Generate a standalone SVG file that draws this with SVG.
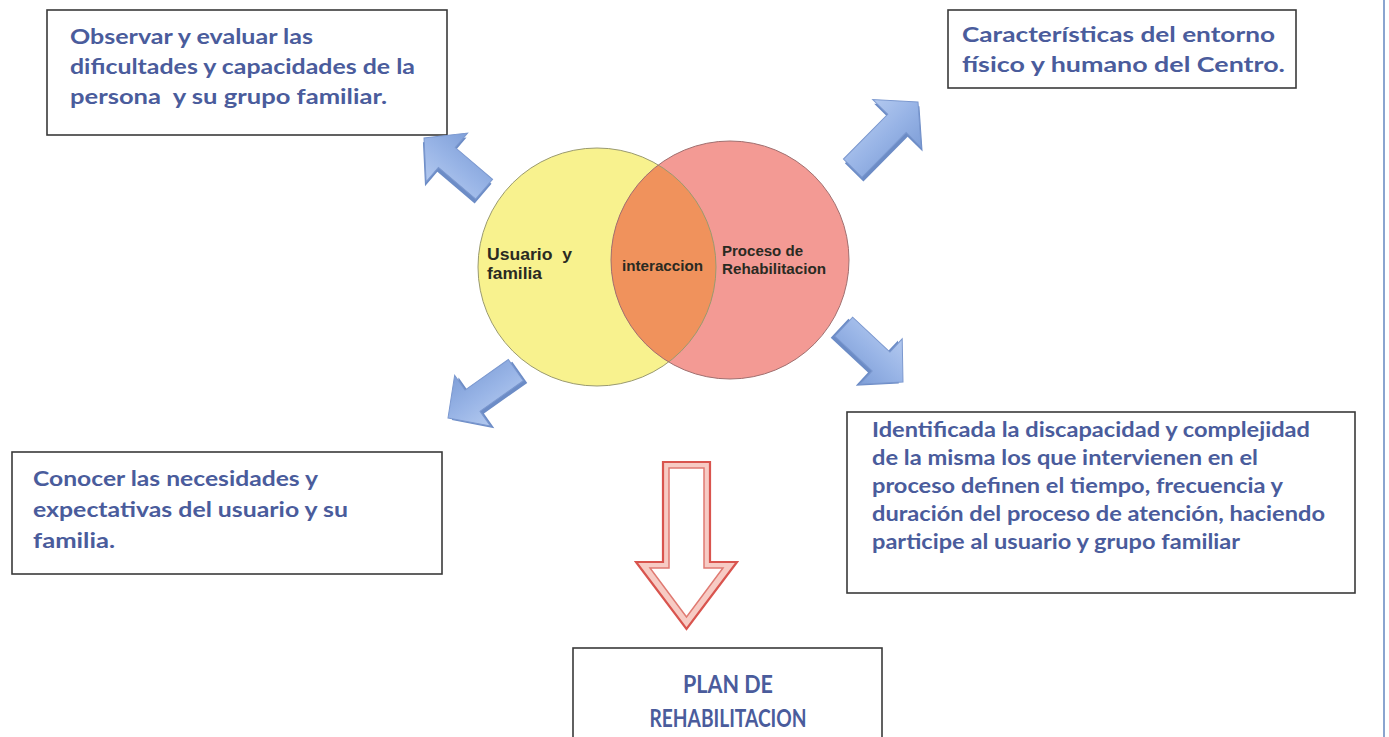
<svg xmlns="http://www.w3.org/2000/svg" width="1389" height="737" viewBox="0 0 1389 737">
<defs>
<linearGradient id="blueGrad" x1="0" y1="0" x2="0" y2="1">
<stop offset="0" stop-color="#b3c9ef"/>
<stop offset="0.5" stop-color="#98b4e6"/>
<stop offset="1" stop-color="#7f9fd8"/>
</linearGradient>
<style>
.box{fill:#ffffff;stroke:#3a3a3a;stroke-width:1.6}
.bt{font-family:Lato,"Open Sans","Liberation Sans",sans-serif;font-weight:700;font-size:20px;fill:#4a5c9c}
.pt{font-family:Lato,"Open Sans","Liberation Sans",sans-serif;font-weight:700;font-size:25px;fill:#4a5c9c;text-anchor:middle}
.vt{font-family:"Liberation Sans",Arial,sans-serif;font-weight:700;fill:#2a2a22}
.arr{fill:url(#blueGrad);stroke:#7b98cf;stroke-width:1}
.arrs{fill:#6c8cc6}
</style>
</defs>
<rect x="0" y="0" width="1389" height="737" fill="#ffffff"/>
<line x1="1384" y1="0" x2="1384" y2="737" stroke="#8aa4cf" stroke-width="2"/>

<g id="venn">
<circle cx="597" cy="267" r="119" fill="#f8f28e"/>
<circle cx="730" cy="260" r="119" fill="#f39a94"/>
<path d="M658.3,165 A119,119 0 0 0 668.7,362 A119,119 0 0 0 658.3,165 Z" fill="#f0925c"/>
<circle cx="597" cy="267" r="119" fill="none" stroke="#9a9a70" stroke-width="1"/>
<circle cx="730" cy="260" r="119" fill="none" stroke="#a07070" stroke-width="1"/>
<text class="vt" x="487" y="260" font-size="16" textLength="85" lengthAdjust="spacingAndGlyphs" xml:space="preserve">Usuario  y</text>
<text class="vt" x="487" y="279" font-size="16" textLength="55" lengthAdjust="spacingAndGlyphs">familia</text>
<text class="vt" x="622" y="271" font-size="14" textLength="81" lengthAdjust="spacingAndGlyphs">interaccion</text>
<text class="vt" x="722" y="256" font-size="14" textLength="81" lengthAdjust="spacingAndGlyphs">Proceso de</text>
<text class="vt" x="722" y="274" font-size="14" textLength="104" lengthAdjust="spacingAndGlyphs">Rehabilitacion</text>
</g>

<g id="box-observar">
<rect class="box" x="47" y="10" width="400" height="125"/>
<text class="bt" x="70" y="44" textLength="243" lengthAdjust="spacingAndGlyphs">Observar y evaluar las</text>
<text class="bt" x="70" y="74" textLength="345" lengthAdjust="spacingAndGlyphs">dificultades y capacidades de la</text>
<text class="bt" x="70" y="104" textLength="317" lengthAdjust="spacingAndGlyphs" xml:space="preserve">persona  y su grupo familiar.</text>
</g>

<g id="box-caracteristicas">
<rect class="box" x="948" y="10" width="348" height="78"/>
<text class="bt" x="962" y="42" textLength="313" lengthAdjust="spacingAndGlyphs">Características del entorno</text>
<text class="bt" x="962" y="72" textLength="323" lengthAdjust="spacingAndGlyphs">físico y humano del Centro.</text>
</g>

<g id="box-conocer">
<rect class="box" x="12" y="452" width="430" height="122"/>
<text class="bt" x="33" y="486" textLength="285" lengthAdjust="spacingAndGlyphs">Conocer las necesidades y</text>
<text class="bt" x="33" y="517" textLength="315" lengthAdjust="spacingAndGlyphs">expectativas del usuario y su</text>
<text class="bt" x="33" y="548" textLength="82" lengthAdjust="spacingAndGlyphs">familia.</text>
</g>

<g id="box-identificada">
<rect class="box" x="847" y="412" width="508" height="181"/>
<text class="bt" x="872" y="437" textLength="438" lengthAdjust="spacingAndGlyphs">Identificada la discapacidad y complejidad</text>
<text class="bt" x="872" y="465" textLength="386" lengthAdjust="spacingAndGlyphs">de la misma los que intervienen en el</text>
<text class="bt" x="872" y="493" textLength="411" lengthAdjust="spacingAndGlyphs">proceso definen el tiempo, frecuencia y</text>
<text class="bt" x="872" y="521" textLength="453" lengthAdjust="spacingAndGlyphs">duración del proceso de atención, haciendo</text>
<text class="bt" x="872" y="549" textLength="368" lengthAdjust="spacingAndGlyphs">participe al usuario y grupo familiar</text>
</g>

<g id="box-plan">
<rect class="box" x="573" y="648" width="309" height="100"/>
<text class="pt" x="728" y="693" textLength="90" lengthAdjust="spacingAndGlyphs">PLAN DE</text>
<text class="pt" x="728" y="727" textLength="157" lengthAdjust="spacingAndGlyphs">REHABILITACION</text>
</g>

<g id="connectors">
<g transform="translate(424,138) rotate(220.4)">
<path class="arrs" d="M0,0 L-30,-32 L-30,-13 L-79,-13 L-79,13 L-30,13 L-30,32 Z" transform="translate(-2,-4)"/>
<path class="arr" d="M0,0 L-30,-32 L-30,-13 L-79,-13 L-79,13 L-30,13 L-30,32 Z"/>
</g>
<g transform="translate(918,102) rotate(-45.4)">
<path class="arrs" d="M0,0 L-30,-34 L-30,-13 L-93,-13 L-93,13 L-30,13 L-30,34 Z" transform="translate(-2,4)"/>
<path class="arr" d="M0,0 L-30,-34 L-30,-13 L-93,-13 L-93,13 L-30,13 L-30,34 Z"/>
</g>
<g transform="translate(448,418) rotate(144.8)">
<path class="arrs" d="M0,0 L-30,-31 L-30,-13 L-83,-13 L-83,13 L-30,13 L-30,31 Z" transform="translate(-2,-4)"/>
<path class="arr" d="M0,0 L-30,-31 L-30,-13 L-83,-13 L-83,13 L-30,13 L-30,31 Z"/>
</g>
<g transform="translate(903,382) rotate(43)">
<path class="arrs" d="M0,0 L-30,-31 L-30,-13 L-81,-13 L-81,13 L-30,13 L-30,31 Z" transform="translate(-2,4)"/>
<path class="arr" d="M0,0 L-30,-31 L-30,-13 L-81,-13 L-81,13 L-30,13 L-30,31 Z"/>
</g>
<g id="down-arrow">
<path d="M663,462 L710,462 L710,562 L737,562 L686.5,629 L636,562 L663,562 Z" fill="#f7cbc4" stroke="#d9544e" stroke-width="2.2"/>
<path d="M669,468 L704,468 L704,568 L723,568 L686.5,617 L650,568 L669,568 Z" fill="#ffffff" stroke="#e07a72" stroke-width="1.5"/>
</g>
</g>
</svg>
